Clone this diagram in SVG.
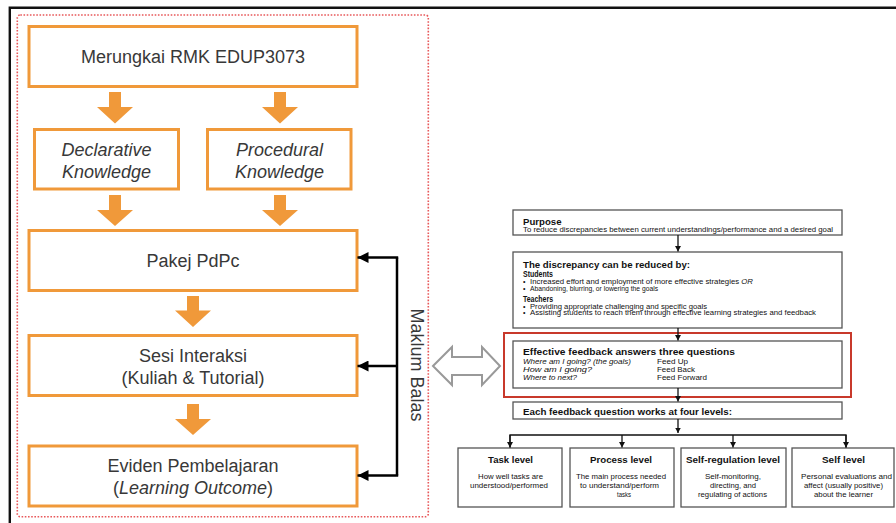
<svg xmlns="http://www.w3.org/2000/svg" width="896" height="523" viewBox="0 0 896 523">
  <defs>
    <style>
      .frame { fill: none; stroke: #111; stroke-width: 2.4; }
      .group-outline { fill: none; stroke: #e8585a; stroke-width: 1.6; stroke-dasharray: 1.6 1.6; }
      .obox { fill: #fff; stroke: #f0993a; stroke-width: 3; }
      .oarrow { fill: #f0993a; }
      .otext { font-family: "Liberation Sans", Arial, sans-serif; font-size: 18px; fill: #383838; text-anchor: middle; }
      .it { font-style: italic; }
      .fb { fill: none; stroke: #000; stroke-width: 2.5; }
      .hollow { fill: #fff; stroke: #999; stroke-width: 2; }
      .gbox { fill: #fff; stroke: #555; stroke-width: 1.3; }
      .rbox { fill: none; stroke: #c8392b; stroke-width: 2; }
      .ln { fill: none; stroke: #111; stroke-width: 1.3; }
      .t { font-family: "Liberation Sans", Arial, sans-serif; fill: #111; }
      .h { font-weight: bold; }
      .c { text-anchor: middle; }
    </style>
    <marker id="fbHead" markerUnits="userSpaceOnUse" markerWidth="12" markerHeight="11" refX="11" refY="5.5" orient="auto">
      <path d="M0,0 L11,5.5 L0,11 z" fill="#000"/>
    </marker>
    <marker id="tip" markerUnits="userSpaceOnUse" markerWidth="6" markerHeight="6" refX="5.5" refY="3" orient="auto">
      <path d="M0,0 L5.5,3 L0,6 z" fill="#111"/>
    </marker>
  </defs>

  <rect width="896" height="523" fill="#fff"/>

  <!-- page frame -->
  <path class="frame" d="M9.8,523 V7.8 H896"/>

  <!-- dotted grouping outline -->
  <rect class="group-outline" x="17.3" y="15" width="411" height="501.7" rx="3"/>

  <!-- left flow: nodes -->
  <g id="node-merungkai">
    <rect class="obox" x="29" y="26.5" width="328" height="60"/>
    <text class="otext" x="193" y="63">Merungkai RMK EDUP3073</text>
  </g>
  <g id="node-declarative">
    <rect class="obox" x="34.5" y="129.5" width="144" height="59.5"/>
    <text class="otext it" x="106.5" y="156">Declarative</text>
    <text class="otext it" x="106.5" y="178">Knowledge</text>
  </g>
  <g id="node-procedural">
    <rect class="obox" x="207.5" y="129.5" width="143.5" height="59.5"/>
    <text class="otext it" x="279.5" y="156">Procedural</text>
    <text class="otext it" x="279.5" y="178">Knowledge</text>
  </g>
  <g id="node-pakej">
    <rect class="obox" x="29" y="230.5" width="328" height="60"/>
    <text class="otext" x="193" y="267">Pakej PdPc</text>
  </g>
  <g id="node-sesi">
    <rect class="obox" x="29" y="335.5" width="328" height="60"/>
    <text class="otext" x="193" y="362">Sesi Interaksi</text>
    <text class="otext" x="193" y="384">(Kuliah &amp; Tutorial)</text>
  </g>
  <g id="node-eviden">
    <rect class="obox" x="29" y="446" width="328" height="60"/>
    <text class="otext" x="193" y="472">Eviden Pembelajaran</text>
    <text class="otext" x="193" y="494">(<tspan class="it">Learning Outcome</tspan>)</text>
  </g>

  <!-- left flow: connectors -->
  <g id="connectors-left">
    <path class="oarrow" d="M109,92 h12 v15 h12 l-18,16.5 l-18,-16.5 h12 z"/>
    <path class="oarrow" d="M274,92 h12 v15 h12 l-18,16.5 l-18,-16.5 h12 z"/>
    <path class="oarrow" d="M109,195 h12 v15 h12 l-18,16 l-18,-16 h12 z"/>
    <path class="oarrow" d="M274,195 h12 v15 h12 l-18,16 l-18,-16 h12 z"/>
    <path class="oarrow" d="M187,296 h12 v14.5 h12 l-18,16.5 l-18,-16.5 h12 z"/>
    <path class="oarrow" d="M187,404 h12 v15 h12 l-18,16 l-18,-16 h12 z"/>

    <!-- Maklum Balas feedback loop -->
    <path class="fb" d="M397,257.5 V475.5"/>
    <path class="fb" d="M398.2,257.5 H357.5" marker-end="url(#fbHead)"/>
    <path class="fb" d="M397,366 H357.5" marker-end="url(#fbHead)"/>
    <path class="fb" d="M398.2,475.5 H357.5" marker-end="url(#fbHead)"/>
  </g>
  <text class="otext" transform="translate(411,365) rotate(90)">Maklum Balas</text>

  <!-- two-way link between the two models -->
  <polygon class="hollow" points="433,366 452,347 452,357 482,357 482,347 500,366 482,385 482,375 452,375 452,385"/>

  <!-- right model: nodes -->
  <g id="node-purpose">
    <rect class="gbox" x="513" y="210" width="329" height="25"/>
    <text class="t h" x="523" y="224.5" font-size="9.5" textLength="38.5" lengthAdjust="spacingAndGlyphs">Purpose</text>
    <text class="t" x="523" y="232" font-size="7" textLength="310" lengthAdjust="spacingAndGlyphs">To reduce discrepancies between current understandings/performance and a desired goal</text>
  </g>
  <g id="node-discrepancy">
    <rect class="gbox" x="513" y="252" width="329" height="76"/>
    <text class="t h" x="523" y="267.5" font-size="9.7" textLength="167" lengthAdjust="spacingAndGlyphs">The discrepancy can be reduced by:</text>
    <text class="t h" x="523" y="276.5" font-size="8.5" textLength="30" lengthAdjust="spacingAndGlyphs">Students</text>
    <text class="t" x="523" y="284" font-size="7">•</text>
    <text class="t" x="530" y="284" font-size="7" textLength="223" lengthAdjust="spacingAndGlyphs">Increased effort and employment of more effective strategies <tspan font-style="italic">OR</tspan></text>
    <text class="t" x="523" y="290.5" font-size="7">•</text>
    <text class="t" x="530" y="290.5" font-size="7" textLength="128" lengthAdjust="spacingAndGlyphs">Abandoning, blurring, or lowering the goals</text>
    <text class="t h" x="523" y="301.5" font-size="8.5" textLength="30" lengthAdjust="spacingAndGlyphs">Teachers</text>
    <text class="t" x="523" y="308.5" font-size="7">•</text>
    <text class="t" x="530" y="308.5" font-size="7" textLength="177" lengthAdjust="spacingAndGlyphs">Providing appropriate challenging and specific goals</text>
    <text class="t" x="523" y="315" font-size="7">•</text>
    <text class="t" x="530" y="315" font-size="7" textLength="286" lengthAdjust="spacingAndGlyphs">Assisting students to reach them through effective learning strategies and feedback</text>
  </g>
  <g id="node-effective">
    <rect class="rbox" x="504" y="333" width="347" height="64"/>
    <rect class="gbox" x="513" y="341" width="329" height="47"/>
    <text class="t h" x="523" y="354.5" font-size="9.7" textLength="212" lengthAdjust="spacingAndGlyphs">Effective feedback answers three questions</text>
    <text class="t" x="523" y="364" font-size="7" font-style="italic" textLength="108" lengthAdjust="spacingAndGlyphs">Where am I going? (the goals)</text>
    <text class="t" x="523" y="371.5" font-size="7" font-style="italic" textLength="69" lengthAdjust="spacingAndGlyphs">How am I going?</text>
    <text class="t" x="523" y="379.5" font-size="7" font-style="italic" textLength="54" lengthAdjust="spacingAndGlyphs">Where to next?</text>
    <text class="t" x="657" y="364" font-size="7" textLength="31" lengthAdjust="spacingAndGlyphs">Feed Up</text>
    <text class="t" x="657" y="371.5" font-size="7" textLength="38" lengthAdjust="spacingAndGlyphs">Feed Back</text>
    <text class="t" x="657" y="379.5" font-size="7" textLength="50" lengthAdjust="spacingAndGlyphs">Feed Forward</text>
  </g>
  <g id="node-levels">
    <rect class="gbox" x="513" y="402" width="329" height="17"/>
    <text class="t h" x="523" y="414.5" font-size="9.7" textLength="209" lengthAdjust="spacingAndGlyphs">Each feedback question works at four levels:</text>
  </g>
  <g id="node-task">
    <rect class="gbox" x="458" y="448" width="104" height="59"/>
    <text class="t h c" x="510.5" y="462.5" font-size="9" textLength="45" lengthAdjust="spacingAndGlyphs">Task level</text>
    <text class="t c" x="510.5" y="478.5" font-size="7" textLength="65" lengthAdjust="spacingAndGlyphs">How well tasks are</text>
    <text class="t c" x="509" y="487.5" font-size="7" textLength="78" lengthAdjust="spacingAndGlyphs">understood/performed</text>
  </g>
  <g id="node-process">
    <rect class="gbox" x="570" y="448" width="104" height="59"/>
    <text class="t h c" x="621" y="462.5" font-size="9" textLength="62" lengthAdjust="spacingAndGlyphs">Process level</text>
    <text class="t c" x="621" y="478.5" font-size="7" textLength="90" lengthAdjust="spacingAndGlyphs">The main process needed</text>
    <text class="t c" x="619.5" y="487.5" font-size="7" textLength="79" lengthAdjust="spacingAndGlyphs">to understand/perform</text>
    <text class="t c" x="624" y="496.5" font-size="7" textLength="14" lengthAdjust="spacingAndGlyphs">tasks</text>
  </g>
  <g id="node-selfregulation">
    <rect class="gbox" x="681" y="448" width="105" height="59"/>
    <text class="t h c" x="733" y="462.5" font-size="9" textLength="94" lengthAdjust="spacingAndGlyphs">Self-regulation level</text>
    <text class="t c" x="733" y="478.5" font-size="7" textLength="56" lengthAdjust="spacingAndGlyphs">Self-monitoring,</text>
    <text class="t c" x="733" y="487.5" font-size="7" textLength="46" lengthAdjust="spacingAndGlyphs">directing, and</text>
    <text class="t c" x="732.5" y="496.5" font-size="7" textLength="69" lengthAdjust="spacingAndGlyphs">regulating of actions</text>
  </g>
  <g id="node-self">
    <rect class="gbox" x="792" y="448" width="102" height="59"/>
    <text class="t h c" x="843.5" y="462.5" font-size="9" textLength="43" lengthAdjust="spacingAndGlyphs">Self level</text>
    <text class="t c" x="846.5" y="478.5" font-size="7" textLength="91" lengthAdjust="spacingAndGlyphs">Personal evaluations and</text>
    <text class="t c" x="843.5" y="487.5" font-size="7" textLength="79" lengthAdjust="spacingAndGlyphs">affect (usually positive)</text>
    <text class="t c" x="843.5" y="496.5" font-size="7" textLength="59" lengthAdjust="spacingAndGlyphs">about the learner</text>
  </g>

  <!-- right model: connectors -->
  <g id="connectors-right">
    <path class="ln" d="M678,235 V251.5" marker-end="url(#tip)"/>
    <path class="ln" d="M678,328 V340.5" marker-end="url(#tip)"/>
    <path class="ln" d="M678,388 V401.5" marker-end="url(#tip)"/>
    <path class="ln" d="M678,419 V433" marker-end="url(#tip)"/>
    <path class="ln" d="M510,447.5 V435 H846 V447.5"/>
    <path class="ln" d="M510,435 V447.5" marker-end="url(#tip)"/>
    <path class="ln" d="M622,435 V447.5" marker-end="url(#tip)"/>
    <path class="ln" d="M733,435 V447.5" marker-end="url(#tip)"/>
    <path class="ln" d="M846,435 V447.5" marker-end="url(#tip)"/>
  </g>
</svg>
